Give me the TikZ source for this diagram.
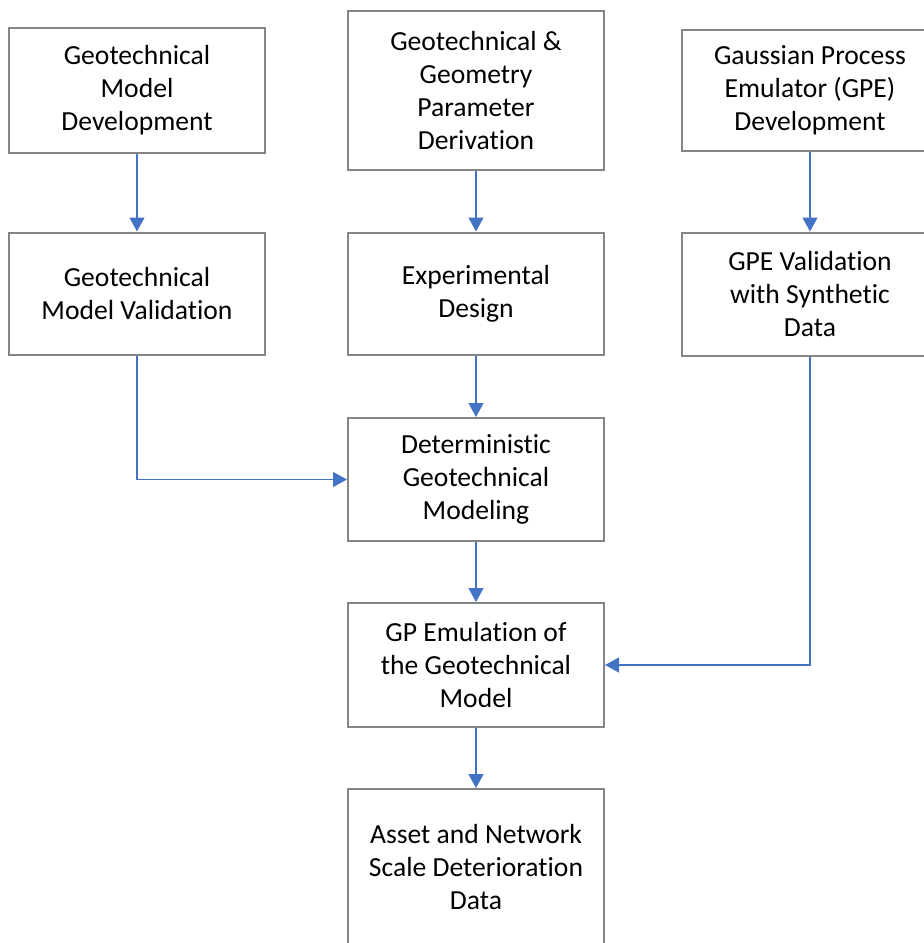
\documentclass[tikz,border=0pt]{standalone}
\usepackage{fontspec}
\setmainfont{Carlito}[RawFeature={-liga;-clig;-calt;-dlig}]
\usetikzlibrary{arrows.meta}
\definecolor{boxgray}{HTML}{858585}
\definecolor{arrowblue}{HTML}{4472C4}
\begin{document}
\begin{tikzpicture}[x=1pt,y=-1pt,
  stepbox/.style={draw=boxgray, line width=2pt, fill=white, minimum width=256pt, inner sep=0pt, align=center, font=\fontsize{27.6}{33}\selectfont, text=black},
  flow/.style={draw=arrowblue, line width=1.3pt, -{Triangle[length=14pt,width=15pt]}, shorten >=0pt}
]
\useasboundingbox (0,0) rectangle (924,943);
\node[stepbox, minimum height=125pt] (a) at (137,90.5) {Geotechnical\\Model\\Development};
\node[stepbox, minimum height=159pt] (b) at (476,90.5) {Geotechnical \&\\Geometry\\Parameter\\Derivation};
\node[stepbox, minimum height=121pt] (c) at (810,90.5) {Gaussian Process\\Emulator (GPE)\\Development};
\node[stepbox, minimum height=122pt] (d) at (137,293.5) {Geotechnical\\Model Validation};
\node[stepbox, minimum height=122pt] (e) at (476,293.5) {Experimental\\Design};
\node[stepbox, minimum height=123pt] (f) at (810,294) {GPE Validation\\with Synthetic\\Data};
\node[stepbox, minimum height=123pt] (g) at (476,479.5) {Deterministic\\Geotechnical\\Modeling};
\node[stepbox, minimum height=124pt] (h) at (476,665) {GP Emulation of\\the Geotechnical\\Model};
\node[stepbox, minimum height=156pt] (i) at (476,867) {Asset and Network\\Scale Deterioration\\Data};
\draw[flow] (a.south) -- (d.north);
\draw[flow] (b.south) -- (e.north);
\draw[flow] (c.south) -- (f.north);
\draw[flow] (e.south) -- (g.north);
\draw[flow] (g.south) -- (h.north);
\draw[flow] (h.south) -- (i.north);
\draw[flow] (d.south) |- (g.west);
\draw[flow] (f.south) |- (h.east);
\end{tikzpicture}
\end{document}
